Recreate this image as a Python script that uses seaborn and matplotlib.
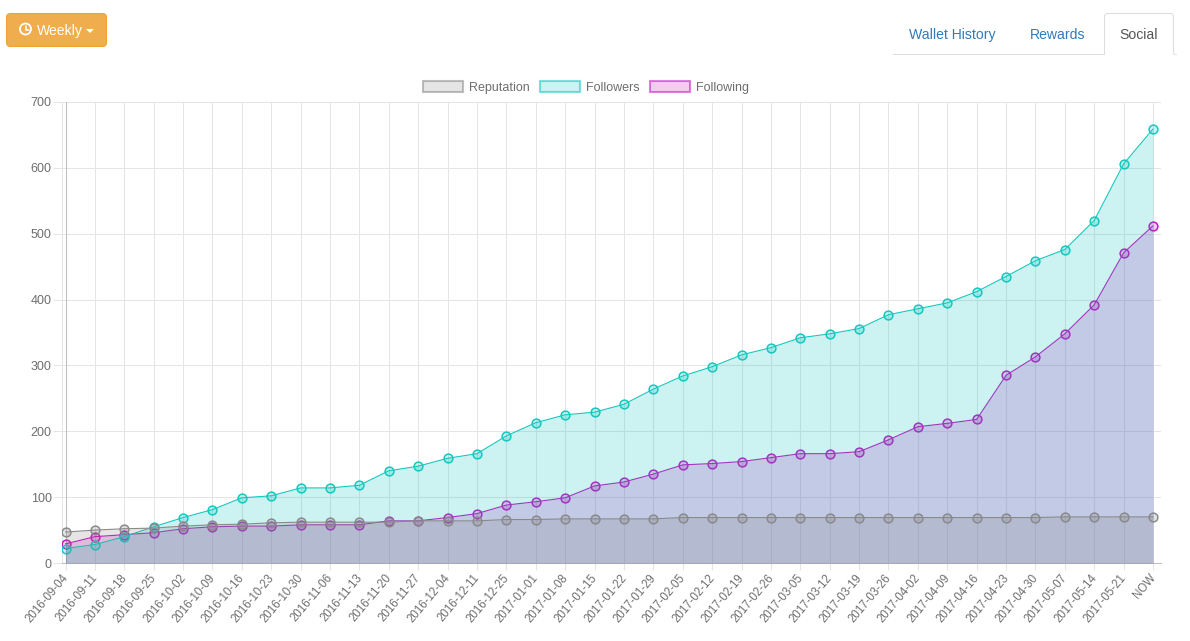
import matplotlib
matplotlib.use('Agg')
import matplotlib.pyplot as plt
import seaborn as sns
from matplotlib.patches import Circle, FancyBboxPatch, Patch, Polygon
from matplotlib.transforms import ScaledTranslation

# Values
labels = ['2016-09-04', '2016-09-11', '2016-09-18', '2016-09-25', '2016-10-02', '2016-10-09',
          '2016-10-16', '2016-10-23', '2016-10-30', '2016-11-06', '2016-11-13', '2016-11-20',
          '2016-11-27', '2016-12-04', '2016-12-11', '2016-12-25', '2017-01-01', '2017-01-08',
          '2017-01-15', '2017-01-22', '2017-01-29', '2017-02-05', '2017-02-12', '2017-02-19',
          '2017-02-26', '2017-03-05', '2017-03-12', '2017-03-19', '2017-03-26', '2017-04-02',
          '2017-04-09', '2017-04-16', '2017-04-23', '2017-04-30', '2017-05-07', '2017-05-14',
          '2017-05-21', 'NOW']
reputation = [47, 50, 52, 53, 56, 58, 59, 61, 62, 62, 62, 62, 64, 64, 64, 66, 66, 67, 67,
              67, 67, 69, 69, 69, 69, 69, 69, 69, 69, 69, 69, 69, 69, 69, 70, 70, 70, 70]
followers = [22, 28, 40, 55, 69, 81, 99, 102, 114, 114, 118, 140, 147, 159, 166, 193, 213, 225, 229,
             241, 264, 284, 298, 316, 327, 342, 348, 356, 377, 386, 395, 412, 435, 459, 476, 520, 606, 659]
following = [29, 40, 43, 46, 52, 55, 56, 56, 58, 58, 58, 64, 64, 69, 75, 88, 93, 99, 117,
             123, 135, 149, 151, 154, 160, 166, 166, 169, 187, 207, 212, 218, 285, 313, 348, 392, 471, 512]
yticks = [0, 100, 200, 300, 400, 500, 600, 700]

GREY = (128 / 255, 128 / 255, 128 / 255)
TEAL = (0, 195 / 255, 185 / 255)
MAGENTA = (195 / 255, 0, 185 / 255)
TEXT = '#6e6e6e'

sns.set_style('white')
plt.rcParams['font.family'] = ['Liberation Sans', 'DejaVu Sans']

W, H = 1190, 641
fig = plt.figure(figsize=(W / 100, H / 100), dpi=100)

# plot area in pixels
left, right, top, bottom = 62, 1161, 102, 563
ax = fig.add_axes([left / W, 1 - bottom / H, (right - left) / W, (bottom - top) / H])

# Chart.js paints the last dataset first
series = [('Following', following, MAGENTA), ('Followers', followers, TEAL), ('Reputation', reputation, GREY)]
xs = list(range(len(labels)))
for i, (name, vals, col) in enumerate(series):
    soft = tuple(c * 0.92 + 0.08 for c in col)
    ax.fill_between(xs, vals, 0, color=col, alpha=0.2, linewidth=0, zorder=3 + i)
    sns.lineplot(x=xs, y=vals, ax=ax, color=soft, linewidth=0.8, marker='o', markersize=6.3,
                 markerfacecolor=(*col, 0.2), markeredgecolor=soft, markeredgewidth=1.1,
                 zorder=3 + i, errorbar=None, sort=False)

step = (1153 - 65.5) / 37
ax.set_xlim(-(65.5 - left) / step, (right - 65.5) / step)
ax.set_ylim(0, 700)
ax.set_xticks(xs)
ax.set_xticklabels(labels, rotation=50, ha='right', va='top', rotation_mode='anchor')
ax.set_yticks(yticks)
ax.tick_params(axis='x', length=5, width=0.75, color='#e5e5e5', pad=3, labelsize=8.3, labelcolor=TEXT, bottom=True)
ax.tick_params(axis='y', length=6.5, width=0.75, color='#e5e5e5', pad=1, labelsize=9, labelcolor=TEXT, left=True)
shift = ScaledTranslation(-4 / 100, 2 / 100, fig.dpi_scale_trans)
for lab in ax.get_xticklabels():
    lab.set_transform(lab.get_transform() + shift)
ax.grid(True, color='#e5e5e5', linewidth=0.75, zorder=0)
ax.set_axisbelow(True)
ax.axvline(0, color='#bfbfbf', linewidth=0.75, zorder=1)
for s in ['top', 'right']:
    ax.spines[s].set_visible(False)
ax.spines['left'].set_color('#e5e5e5')
ax.spines['left'].set_linewidth(0.75)
ax.spines['bottom'].set_color('#bfbfbf')
ax.spines['bottom'].set_linewidth(0.75)

handles = [Patch(facecolor=(*c, 0.2), edgecolor=(*c, 0.5), linewidth=1.5, label=n)
           for n, c in [('Reputation', GREY), ('Followers', TEAL), ('Following', MAGENTA)]]
fig.legend(handles=handles, loc='center', bbox_to_anchor=(586 / W, 1 - 87.5 / H), ncol=3, frameon=False,
           fontsize=9, labelcolor=TEXT, handlelength=3.2, handleheight=0.96, handletextpad=0.48,
           columnspacing=0.8, borderpad=0, borderaxespad=0)

# page furniture around the chart, in pixel coordinates
ui = fig.add_axes([0, 0, 1, 1], zorder=-1)
ui.set_xlim(0, W)
ui.set_ylim(H, 0)
ui.axis('off')
ui.add_patch(FancyBboxPatch((6.5, 13.5), 100, 33, boxstyle='round,pad=0,rounding_size=4',
                            facecolor='#f0ad4e', edgecolor='#eea236', linewidth=0.75))
ui.add_patch(Circle((25.5, 29), 5.5, facecolor='none', edgecolor='white', linewidth=1.3))
ui.plot([25.5, 25.5, 29], [25.5, 29.5, 29.5], color='white', linewidth=1.1)
ui.text(37, 31, 'Weekly', color='white', fontsize=10.08, va='center', ha='left')
ui.add_patch(Polygon([[86, 29], [94, 29], [90, 33]], facecolor='white', edgecolor='none'))

ui.plot([893, 1104], [54, 54], color='#dddddd', linewidth=0.75)
ui.plot([1174, 1176], [54, 54], color='#dddddd', linewidth=0.75)
ui.plot([1104.5, 1104.5, 1106.5, 1171.5, 1173.5, 1173.5], [54, 15.5, 13.5, 13.5, 15.5, 54],
        color='#dddddd', linewidth=0.75)
ui.text(952, 35, 'Wallet History', color='#337ab7', fontsize=10.08, ha='center', va='center')
ui.text(1058, 35, 'Rewards', color='#337ab7', fontsize=10.08, ha='center', va='center')
ui.text(1139, 35, 'Social', color='#555555', fontsize=10.08, ha='center', va='center')

fig.savefig('out.png', dpi=100)
